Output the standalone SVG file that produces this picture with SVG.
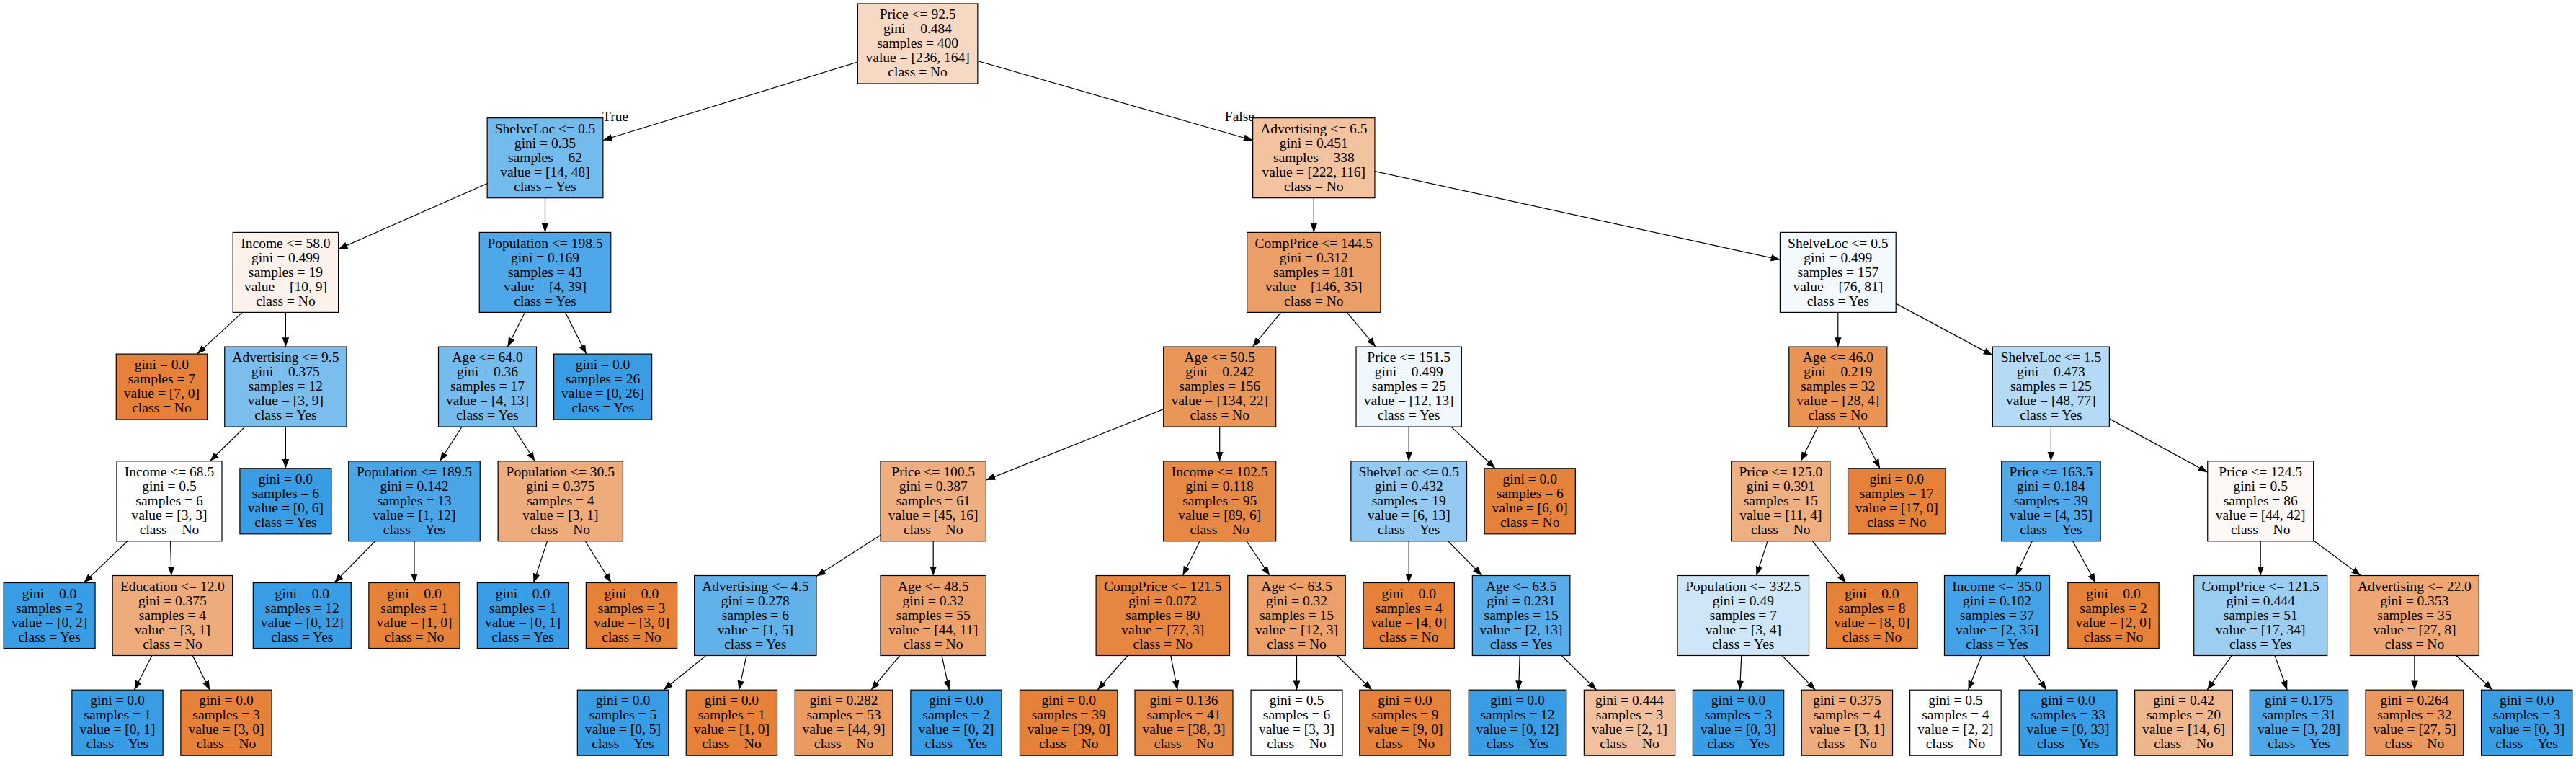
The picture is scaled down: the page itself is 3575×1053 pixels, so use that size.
<svg xmlns="http://www.w3.org/2000/svg" width="3575" height="1053" viewBox="0 0 3575 1053">
<style>
text { font-family: "Liberation Serif", "Times New Roman", serif; font-size: 19.5px; text-anchor: middle; fill: #000; }
.n rect { stroke: #000; stroke-width: 1.2; }
.e line { stroke: #000; stroke-width: 1.2; marker-end: url(#arr); }
.lbl { text-anchor: start; }
</style>
<defs>
<marker id="arr" markerUnits="userSpaceOnUse" viewBox="0 -5 13 10" markerWidth="13" markerHeight="10" refX="12.8" refY="0" orient="auto">
<path d="M0,-4.8 L12.8,0 L0,4.8 Z" fill="#000"/>
</marker>
</defs>
<rect x="0" y="0" width="3575" height="1053" fill="#fff"/>
<g id="connectors" class="e">
<line x1="1273.6" y1="60.5" x2="836.85" y2="194.54"/>
<line x1="1273.6" y1="60.5" x2="1738.65" y2="194.76"/>
<line x1="756.5" y1="219.2" x2="469.6" y2="345.64"/>
<line x1="756.5" y1="219.2" x2="756.5" y2="322.4"/>
<line x1="1823.3" y1="219.2" x2="1823.3" y2="322.4"/>
<line x1="1823.3" y1="219.2" x2="2470.4" y2="360.36"/>
<line x1="396.4" y1="377.9" x2="273.71" y2="491.1"/>
<line x1="396.4" y1="377.9" x2="396.4" y2="481.1"/>
<line x1="756.5" y1="377.9" x2="704.48" y2="481.1"/>
<line x1="756.5" y1="377.9" x2="813.64" y2="491.1"/>
<line x1="1823.3" y1="377.9" x2="1738.37" y2="481.1"/>
<line x1="1823.3" y1="377.9" x2="1909.07" y2="481.1"/>
<line x1="2550.8" y1="377.9" x2="2550.8" y2="481.1"/>
<line x1="2550.8" y1="377.9" x2="2765.4" y2="493.11"/>
<line x1="396.4" y1="536.6" x2="291.45" y2="639.8"/>
<line x1="396.4" y1="536.6" x2="396.4" y2="649.8"/>
<line x1="676.5" y1="536.6" x2="610.5" y2="639.8"/>
<line x1="676.5" y1="536.6" x2="742.37" y2="639.8"/>
<line x1="1692.7" y1="536.6" x2="1368.4" y2="666.08"/>
<line x1="1692.7" y1="536.6" x2="1692.7" y2="639.8"/>
<line x1="1955.2" y1="536.6" x2="1955.2" y2="639.8"/>
<line x1="1955.2" y1="536.6" x2="2075.03" y2="649.8"/>
<line x1="2550.8" y1="536.6" x2="2499.1" y2="639.8"/>
<line x1="2550.8" y1="536.6" x2="2608.93" y2="649.8"/>
<line x1="2846.4" y1="536.6" x2="2846.4" y2="639.8"/>
<line x1="2846.4" y1="536.6" x2="3063.75" y2="655.22"/>
<line x1="235" y1="695.3" x2="116.31" y2="808.5"/>
<line x1="235" y1="695.3" x2="237.86" y2="798.5"/>
<line x1="575" y1="695.3" x2="463.94" y2="808.5"/>
<line x1="575" y1="695.3" x2="575" y2="808.5"/>
<line x1="777.8" y1="695.3" x2="740.49" y2="808.5"/>
<line x1="777.8" y1="695.3" x2="848.2" y2="808.5"/>
<line x1="1295.2" y1="695.3" x2="1132.95" y2="799.59"/>
<line x1="1295.2" y1="695.3" x2="1295.2" y2="798.5"/>
<line x1="1692.7" y1="695.3" x2="1641.39" y2="798.5"/>
<line x1="1692.7" y1="695.3" x2="1762.15" y2="798.5"/>
<line x1="1955.2" y1="695.3" x2="1955.2" y2="808.5"/>
<line x1="1955.2" y1="695.3" x2="2056.58" y2="798.5"/>
<line x1="2471.3" y1="695.3" x2="2437.49" y2="798.5"/>
<line x1="2471.3" y1="695.3" x2="2561.6" y2="808.5"/>
<line x1="2846.4" y1="695.3" x2="2797.69" y2="798.5"/>
<line x1="2846.4" y1="695.3" x2="2908.17" y2="808.5"/>
<line x1="3137.2" y1="695.3" x2="3137.2" y2="798.5"/>
<line x1="3137.2" y1="695.3" x2="3276.17" y2="798.5"/>
<line x1="239.4" y1="854" x2="186.38" y2="957.2"/>
<line x1="239.4" y1="854" x2="291.17" y2="957.2"/>
<line x1="1048.3" y1="854" x2="920.74" y2="957.2"/>
<line x1="1048.3" y1="854" x2="1025.47" y2="957.2"/>
<line x1="1295.2" y1="854" x2="1209.0" y2="957.2"/>
<line x1="1295.2" y1="854" x2="1317.27" y2="957.2"/>
<line x1="1613.8" y1="854" x2="1523.16" y2="957.2"/>
<line x1="1613.8" y1="854" x2="1634.07" y2="957.2"/>
<line x1="1799.5" y1="854" x2="1799.5" y2="957.2"/>
<line x1="1799.5" y1="854" x2="1903.88" y2="957.2"/>
<line x1="2111.1" y1="854" x2="2107.56" y2="957.2"/>
<line x1="2111.1" y1="854" x2="2215.48" y2="957.2"/>
<line x1="2419.3" y1="854" x2="2414.58" y2="957.2"/>
<line x1="2419.3" y1="854" x2="2519.31" y2="957.2"/>
<line x1="2771.5" y1="854" x2="2731.52" y2="957.2"/>
<line x1="2771.5" y1="854" x2="2839.93" y2="957.2"/>
<line x1="3137.2" y1="854" x2="3063.15" y2="957.2"/>
<line x1="3137.2" y1="854" x2="3174.19" y2="957.2"/>
<line x1="3350.9" y1="854" x2="3350.9" y2="957.2"/>
<line x1="3350.9" y1="854" x2="3459.03" y2="957.2"/>
<text class="lbl" x="836" y="168">True</text>
<text x="1741" y="168" style="text-anchor:end">False</text>
</g>
<g id="nodes" class="n">
<g id="n0" transform="translate(1273.6,5)"><rect x="-83.25" y="0" width="166.5" height="111" fill="#f7d9c3"/><text y="21.3"><tspan x="0">Price &lt;= 92.5</tspan><tspan x="0" dy="20">gini = 0.484</tspan><tspan x="0" dy="20">samples = 400</tspan><tspan x="0" dy="20">value = [236, 164]</tspan><tspan x="0" dy="20">class = No</tspan></text></g>
<g id="n1" transform="translate(756.5,163.7)"><rect x="-80.35" y="0" width="160.7" height="111" fill="#73baed"/><text y="21.3"><tspan x="0">ShelveLoc &lt;= 0.5</tspan><tspan x="0" dy="20">gini = 0.35</tspan><tspan x="0" dy="20">samples = 62</tspan><tspan x="0" dy="20">value = [14, 48]</tspan><tspan x="0" dy="20">class = Yes</tspan></text></g>
<g id="n2" transform="translate(1823.3,163.7)"><rect x="-84.65" y="0" width="169.3" height="111" fill="#f3c3a0"/><text y="21.3"><tspan x="0">Advertising &lt;= 6.5</tspan><tspan x="0" dy="20">gini = 0.451</tspan><tspan x="0" dy="20">samples = 338</tspan><tspan x="0" dy="20">value = [222, 116]</tspan><tspan x="0" dy="20">class = No</tspan></text></g>
<g id="n3" transform="translate(396.4,322.4)"><rect x="-73.2" y="0" width="146.4" height="111" fill="#fcf2eb"/><text y="21.3"><tspan x="0">Income &lt;= 58.0</tspan><tspan x="0" dy="20">gini = 0.499</tspan><tspan x="0" dy="20">samples = 19</tspan><tspan x="0" dy="20">value = [10, 9]</tspan><tspan x="0" dy="20">class = No</tspan></text></g>
<g id="n4" transform="translate(756.5,322.4)"><rect x="-91.25" y="0" width="182.5" height="111" fill="#4da7e8"/><text y="21.3"><tspan x="0">Population &lt;= 198.5</tspan><tspan x="0" dy="20">gini = 0.169</tspan><tspan x="0" dy="20">samples = 43</tspan><tspan x="0" dy="20">value = [4, 39]</tspan><tspan x="0" dy="20">class = Yes</tspan></text></g>
<g id="n5" transform="translate(1823.3,322.4)"><rect x="-92.65" y="0" width="185.3" height="111" fill="#eb9f68"/><text y="21.3"><tspan x="0">CompPrice &lt;= 144.5</tspan><tspan x="0" dy="20">gini = 0.312</tspan><tspan x="0" dy="20">samples = 181</tspan><tspan x="0" dy="20">value = [146, 35]</tspan><tspan x="0" dy="20">class = No</tspan></text></g>
<g id="n6" transform="translate(2550.8,322.4)"><rect x="-80.4" y="0" width="160.8" height="111" fill="#f3f9fd"/><text y="21.3"><tspan x="0">ShelveLoc &lt;= 0.5</tspan><tspan x="0" dy="20">gini = 0.499</tspan><tspan x="0" dy="20">samples = 157</tspan><tspan x="0" dy="20">value = [76, 81]</tspan><tspan x="0" dy="20">class = Yes</tspan></text></g>
<g id="n7" transform="translate(224.4,491.1)"><rect x="-63.15" y="0" width="126.3" height="91" fill="#e58139"/><text y="21.3"><tspan x="0">gini = 0.0</tspan><tspan x="0" dy="20">samples = 7</tspan><tspan x="0" dy="20">value = [7, 0]</tspan><tspan x="0" dy="20">class = No</tspan></text></g>
<g id="n8" transform="translate(396.4,481.1)"><rect x="-84.65" y="0" width="169.3" height="111" fill="#7bbeee"/><text y="21.3"><tspan x="0">Advertising &lt;= 9.5</tspan><tspan x="0" dy="20">gini = 0.375</tspan><tspan x="0" dy="20">samples = 12</tspan><tspan x="0" dy="20">value = [3, 9]</tspan><tspan x="0" dy="20">class = Yes</tspan></text></g>
<g id="n9" transform="translate(676.5,481.1)"><rect x="-68" y="0" width="136" height="111" fill="#76bbed"/><text y="21.3"><tspan x="0">Age &lt;= 64.0</tspan><tspan x="0" dy="20">gini = 0.36</tspan><tspan x="0" dy="20">samples = 17</tspan><tspan x="0" dy="20">value = [4, 13]</tspan><tspan x="0" dy="20">class = Yes</tspan></text></g>
<g id="n10" transform="translate(836.6,491.1)"><rect x="-68" y="0" width="136" height="91" fill="#399de5"/><text y="21.3"><tspan x="0">gini = 0.0</tspan><tspan x="0" dy="20">samples = 26</tspan><tspan x="0" dy="20">value = [0, 26]</tspan><tspan x="0" dy="20">class = Yes</tspan></text></g>
<g id="n11" transform="translate(1692.7,481.1)"><rect x="-78" y="0" width="156" height="111" fill="#e9965a"/><text y="21.3"><tspan x="0">Age &lt;= 50.5</tspan><tspan x="0" dy="20">gini = 0.242</tspan><tspan x="0" dy="20">samples = 156</tspan><tspan x="0" dy="20">value = [134, 22]</tspan><tspan x="0" dy="20">class = No</tspan></text></g>
<g id="n12" transform="translate(1955.2,481.1)"><rect x="-73.15" y="0" width="146.3" height="111" fill="#f0f7fd"/><text y="21.3"><tspan x="0">Price &lt;= 151.5</tspan><tspan x="0" dy="20">gini = 0.499</tspan><tspan x="0" dy="20">samples = 25</tspan><tspan x="0" dy="20">value = [12, 13]</tspan><tspan x="0" dy="20">class = Yes</tspan></text></g>
<g id="n13" transform="translate(2550.8,481.1)"><rect x="-68" y="0" width="136" height="111" fill="#e99355"/><text y="21.3"><tspan x="0">Age &lt;= 46.0</tspan><tspan x="0" dy="20">gini = 0.219</tspan><tspan x="0" dy="20">samples = 32</tspan><tspan x="0" dy="20">value = [28, 4]</tspan><tspan x="0" dy="20">class = No</tspan></text></g>
<g id="n14" transform="translate(2846.4,481.1)"><rect x="-81" y="0" width="162" height="111" fill="#b4daf5"/><text y="21.3"><tspan x="0">ShelveLoc &lt;= 1.5</tspan><tspan x="0" dy="20">gini = 0.473</tspan><tspan x="0" dy="20">samples = 125</tspan><tspan x="0" dy="20">value = [48, 77]</tspan><tspan x="0" dy="20">class = Yes</tspan></text></g>
<g id="n15" transform="translate(235,639.8)"><rect x="-73" y="0" width="146" height="111" fill="#ffffff"/><text y="21.3"><tspan x="0">Income &lt;= 68.5</tspan><tspan x="0" dy="20">gini = 0.5</tspan><tspan x="0" dy="20">samples = 6</tspan><tspan x="0" dy="20">value = [3, 3]</tspan><tspan x="0" dy="20">class = No</tspan></text></g>
<g id="n16" transform="translate(396.4,649.8)"><rect x="-63.5" y="0" width="127" height="91" fill="#399de5"/><text y="21.3"><tspan x="0">gini = 0.0</tspan><tspan x="0" dy="20">samples = 6</tspan><tspan x="0" dy="20">value = [0, 6]</tspan><tspan x="0" dy="20">class = Yes</tspan></text></g>
<g id="n17" transform="translate(575,639.8)"><rect x="-91.25" y="0" width="182.5" height="111" fill="#4aa5e7"/><text y="21.3"><tspan x="0">Population &lt;= 189.5</tspan><tspan x="0" dy="20">gini = 0.142</tspan><tspan x="0" dy="20">samples = 13</tspan><tspan x="0" dy="20">value = [1, 12]</tspan><tspan x="0" dy="20">class = Yes</tspan></text></g>
<g id="n18" transform="translate(777.8,639.8)"><rect x="-86.65" y="0" width="173.3" height="111" fill="#eeab7b"/><text y="21.3"><tspan x="0">Population &lt;= 30.5</tspan><tspan x="0" dy="20">gini = 0.375</tspan><tspan x="0" dy="20">samples = 4</tspan><tspan x="0" dy="20">value = [3, 1]</tspan><tspan x="0" dy="20">class = No</tspan></text></g>
<g id="n19" transform="translate(1295.2,639.8)"><rect x="-73.2" y="0" width="146.4" height="111" fill="#eeae7f"/><text y="21.3"><tspan x="0">Price &lt;= 100.5</tspan><tspan x="0" dy="20">gini = 0.387</tspan><tspan x="0" dy="20">samples = 61</tspan><tspan x="0" dy="20">value = [45, 16]</tspan><tspan x="0" dy="20">class = No</tspan></text></g>
<g id="n20" transform="translate(1692.7,639.8)"><rect x="-78" y="0" width="156" height="111" fill="#e78946"/><text y="21.3"><tspan x="0">Income &lt;= 102.5</tspan><tspan x="0" dy="20">gini = 0.118</tspan><tspan x="0" dy="20">samples = 95</tspan><tspan x="0" dy="20">value = [89, 6]</tspan><tspan x="0" dy="20">class = No</tspan></text></g>
<g id="n21" transform="translate(1955.2,639.8)"><rect x="-80.35" y="0" width="160.7" height="111" fill="#94caf1"/><text y="21.3"><tspan x="0">ShelveLoc &lt;= 0.5</tspan><tspan x="0" dy="20">gini = 0.432</tspan><tspan x="0" dy="20">samples = 19</tspan><tspan x="0" dy="20">value = [6, 13]</tspan><tspan x="0" dy="20">class = Yes</tspan></text></g>
<g id="n22" transform="translate(2123.2,649.8)"><rect x="-63.15" y="0" width="126.3" height="91" fill="#e58139"/><text y="21.3"><tspan x="0">gini = 0.0</tspan><tspan x="0" dy="20">samples = 6</tspan><tspan x="0" dy="20">value = [6, 0]</tspan><tspan x="0" dy="20">class = No</tspan></text></g>
<g id="n23" transform="translate(2471.3,639.8)"><rect x="-68.6" y="0" width="137.2" height="111" fill="#eeaf81"/><text y="21.3"><tspan x="0">Price &lt;= 125.0</tspan><tspan x="0" dy="20">gini = 0.391</tspan><tspan x="0" dy="20">samples = 15</tspan><tspan x="0" dy="20">value = [11, 4]</tspan><tspan x="0" dy="20">class = No</tspan></text></g>
<g id="n24" transform="translate(2632.3,649.8)"><rect x="-67.75" y="0" width="135.5" height="91" fill="#e58139"/><text y="21.3"><tspan x="0">gini = 0.0</tspan><tspan x="0" dy="20">samples = 17</tspan><tspan x="0" dy="20">value = [17, 0]</tspan><tspan x="0" dy="20">class = No</tspan></text></g>
<g id="n25" transform="translate(2846.4,639.8)"><rect x="-68.7" y="0" width="137.4" height="111" fill="#50a8e8"/><text y="21.3"><tspan x="0">Price &lt;= 163.5</tspan><tspan x="0" dy="20">gini = 0.184</tspan><tspan x="0" dy="20">samples = 39</tspan><tspan x="0" dy="20">value = [4, 35]</tspan><tspan x="0" dy="20">class = Yes</tspan></text></g>
<g id="n26" transform="translate(3137.2,639.8)"><rect x="-73.45" y="0" width="146.9" height="111" fill="#fef9f6"/><text y="21.3"><tspan x="0">Price &lt;= 124.5</tspan><tspan x="0" dy="20">gini = 0.5</tspan><tspan x="0" dy="20">samples = 86</tspan><tspan x="0" dy="20">value = [44, 42]</tspan><tspan x="0" dy="20">class = No</tspan></text></g>
<g id="n27" transform="translate(68.6,808.5)"><rect x="-63.45" y="0" width="126.9" height="91" fill="#399de5"/><text y="21.3"><tspan x="0">gini = 0.0</tspan><tspan x="0" dy="20">samples = 2</tspan><tspan x="0" dy="20">value = [0, 2]</tspan><tspan x="0" dy="20">class = Yes</tspan></text></g>
<g id="n28" transform="translate(239.4,798.5)"><rect x="-83.25" y="0" width="166.5" height="111" fill="#eeab7b"/><text y="21.3"><tspan x="0">Education &lt;= 12.0</tspan><tspan x="0" dy="20">gini = 0.375</tspan><tspan x="0" dy="20">samples = 4</tspan><tspan x="0" dy="20">value = [3, 1]</tspan><tspan x="0" dy="20">class = No</tspan></text></g>
<g id="n29" transform="translate(419.3,808.5)"><rect x="-68" y="0" width="136" height="91" fill="#399de5"/><text y="21.3"><tspan x="0">gini = 0.0</tspan><tspan x="0" dy="20">samples = 12</tspan><tspan x="0" dy="20">value = [0, 12]</tspan><tspan x="0" dy="20">class = Yes</tspan></text></g>
<g id="n30" transform="translate(575,808.5)"><rect x="-63.15" y="0" width="126.3" height="91" fill="#e58139"/><text y="21.3"><tspan x="0">gini = 0.0</tspan><tspan x="0" dy="20">samples = 1</tspan><tspan x="0" dy="20">value = [1, 0]</tspan><tspan x="0" dy="20">class = No</tspan></text></g>
<g id="n31" transform="translate(725.5,808.5)"><rect x="-63.15" y="0" width="126.3" height="91" fill="#399de5"/><text y="21.3"><tspan x="0">gini = 0.0</tspan><tspan x="0" dy="20">samples = 1</tspan><tspan x="0" dy="20">value = [0, 1]</tspan><tspan x="0" dy="20">class = Yes</tspan></text></g>
<g id="n32" transform="translate(876.5,808.5)"><rect x="-63.15" y="0" width="126.3" height="91" fill="#e58139"/><text y="21.3"><tspan x="0">gini = 0.0</tspan><tspan x="0" dy="20">samples = 3</tspan><tspan x="0" dy="20">value = [3, 0]</tspan><tspan x="0" dy="20">class = No</tspan></text></g>
<g id="n33" transform="translate(1048.3,798.5)"><rect x="-84.65" y="0" width="169.3" height="111" fill="#61b1ea"/><text y="21.3"><tspan x="0">Advertising &lt;= 4.5</tspan><tspan x="0" dy="20">gini = 0.278</tspan><tspan x="0" dy="20">samples = 6</tspan><tspan x="0" dy="20">value = [1, 5]</tspan><tspan x="0" dy="20">class = Yes</tspan></text></g>
<g id="n34" transform="translate(1295.2,798.5)"><rect x="-73.2" y="0" width="146.4" height="111" fill="#eca06a"/><text y="21.3"><tspan x="0">Age &lt;= 48.5</tspan><tspan x="0" dy="20">gini = 0.32</tspan><tspan x="0" dy="20">samples = 55</tspan><tspan x="0" dy="20">value = [44, 11]</tspan><tspan x="0" dy="20">class = No</tspan></text></g>
<g id="n35" transform="translate(1613.8,798.5)"><rect x="-92.7" y="0" width="185.4" height="111" fill="#e68641"/><text y="21.3"><tspan x="0">CompPrice &lt;= 121.5</tspan><tspan x="0" dy="20">gini = 0.072</tspan><tspan x="0" dy="20">samples = 80</tspan><tspan x="0" dy="20">value = [77, 3]</tspan><tspan x="0" dy="20">class = No</tspan></text></g>
<g id="n36" transform="translate(1799.5,798.5)"><rect x="-67.75" y="0" width="135.5" height="111" fill="#eca06a"/><text y="21.3"><tspan x="0">Age &lt;= 63.5</tspan><tspan x="0" dy="20">gini = 0.32</tspan><tspan x="0" dy="20">samples = 15</tspan><tspan x="0" dy="20">value = [12, 3]</tspan><tspan x="0" dy="20">class = No</tspan></text></g>
<g id="n37" transform="translate(1955.2,808.5)"><rect x="-63.15" y="0" width="126.3" height="91" fill="#e58139"/><text y="21.3"><tspan x="0">gini = 0.0</tspan><tspan x="0" dy="20">samples = 4</tspan><tspan x="0" dy="20">value = [4, 0]</tspan><tspan x="0" dy="20">class = No</tspan></text></g>
<g id="n38" transform="translate(2111.1,798.5)"><rect x="-67.75" y="0" width="135.5" height="111" fill="#57ace9"/><text y="21.3"><tspan x="0">Age &lt;= 63.5</tspan><tspan x="0" dy="20">gini = 0.231</tspan><tspan x="0" dy="20">samples = 15</tspan><tspan x="0" dy="20">value = [2, 13]</tspan><tspan x="0" dy="20">class = Yes</tspan></text></g>
<g id="n39" transform="translate(2419.3,798.5)"><rect x="-91.25" y="0" width="182.5" height="111" fill="#cee6f8"/><text y="21.3"><tspan x="0">Population &lt;= 332.5</tspan><tspan x="0" dy="20">gini = 0.49</tspan><tspan x="0" dy="20">samples = 7</tspan><tspan x="0" dy="20">value = [3, 4]</tspan><tspan x="0" dy="20">class = Yes</tspan></text></g>
<g id="n40" transform="translate(2597.9,808.5)"><rect x="-63.15" y="0" width="126.3" height="91" fill="#e58139"/><text y="21.3"><tspan x="0">gini = 0.0</tspan><tspan x="0" dy="20">samples = 8</tspan><tspan x="0" dy="20">value = [8, 0]</tspan><tspan x="0" dy="20">class = No</tspan></text></g>
<g id="n41" transform="translate(2771.5,798.5)"><rect x="-73" y="0" width="146" height="111" fill="#44a3e6"/><text y="21.3"><tspan x="0">Income &lt;= 35.0</tspan><tspan x="0" dy="20">gini = 0.102</tspan><tspan x="0" dy="20">samples = 37</tspan><tspan x="0" dy="20">value = [2, 35]</tspan><tspan x="0" dy="20">class = Yes</tspan></text></g>
<g id="n42" transform="translate(2933,808.5)"><rect x="-63.15" y="0" width="126.3" height="91" fill="#e58139"/><text y="21.3"><tspan x="0">gini = 0.0</tspan><tspan x="0" dy="20">samples = 2</tspan><tspan x="0" dy="20">value = [2, 0]</tspan><tspan x="0" dy="20">class = No</tspan></text></g>
<g id="n43" transform="translate(3137.2,798.5)"><rect x="-92.5" y="0" width="185" height="111" fill="#9ccef2"/><text y="21.3"><tspan x="0">CompPrice &lt;= 121.5</tspan><tspan x="0" dy="20">gini = 0.444</tspan><tspan x="0" dy="20">samples = 51</tspan><tspan x="0" dy="20">value = [17, 34]</tspan><tspan x="0" dy="20">class = Yes</tspan></text></g>
<g id="n44" transform="translate(3350.9,798.5)"><rect x="-89.4" y="0" width="178.8" height="111" fill="#eda674"/><text y="21.3"><tspan x="0">Advertising &lt;= 22.0</tspan><tspan x="0" dy="20">gini = 0.353</tspan><tspan x="0" dy="20">samples = 35</tspan><tspan x="0" dy="20">value = [27, 8]</tspan><tspan x="0" dy="20">class = No</tspan></text></g>
<g id="n45" transform="translate(163,957.2)"><rect x="-63.15" y="0" width="126.3" height="91" fill="#399de5"/><text y="21.3"><tspan x="0">gini = 0.0</tspan><tspan x="0" dy="20">samples = 1</tspan><tspan x="0" dy="20">value = [0, 1]</tspan><tspan x="0" dy="20">class = Yes</tspan></text></g>
<g id="n46" transform="translate(314,957.2)"><rect x="-63.15" y="0" width="126.3" height="91" fill="#e58139"/><text y="21.3"><tspan x="0">gini = 0.0</tspan><tspan x="0" dy="20">samples = 3</tspan><tspan x="0" dy="20">value = [3, 0]</tspan><tspan x="0" dy="20">class = No</tspan></text></g>
<g id="n47" transform="translate(864.5,957.2)"><rect x="-63.15" y="0" width="126.3" height="91" fill="#399de5"/><text y="21.3"><tspan x="0">gini = 0.0</tspan><tspan x="0" dy="20">samples = 5</tspan><tspan x="0" dy="20">value = [0, 5]</tspan><tspan x="0" dy="20">class = Yes</tspan></text></g>
<g id="n48" transform="translate(1015.4,957.2)"><rect x="-63.15" y="0" width="126.3" height="91" fill="#e58139"/><text y="21.3"><tspan x="0">gini = 0.0</tspan><tspan x="0" dy="20">samples = 1</tspan><tspan x="0" dy="20">value = [1, 0]</tspan><tspan x="0" dy="20">class = No</tspan></text></g>
<g id="n49" transform="translate(1171,957.2)"><rect x="-67.75" y="0" width="135.5" height="91" fill="#ea9b62"/><text y="21.3"><tspan x="0">gini = 0.282</tspan><tspan x="0" dy="20">samples = 53</tspan><tspan x="0" dy="20">value = [44, 9]</tspan><tspan x="0" dy="20">class = No</tspan></text></g>
<g id="n50" transform="translate(1327,957.2)"><rect x="-63.15" y="0" width="126.3" height="91" fill="#399de5"/><text y="21.3"><tspan x="0">gini = 0.0</tspan><tspan x="0" dy="20">samples = 2</tspan><tspan x="0" dy="20">value = [0, 2]</tspan><tspan x="0" dy="20">class = Yes</tspan></text></g>
<g id="n51" transform="translate(1483.2,957.2)"><rect x="-67.75" y="0" width="135.5" height="91" fill="#e58139"/><text y="21.3"><tspan x="0">gini = 0.0</tspan><tspan x="0" dy="20">samples = 39</tspan><tspan x="0" dy="20">value = [39, 0]</tspan><tspan x="0" dy="20">class = No</tspan></text></g>
<g id="n52" transform="translate(1643,957.2)"><rect x="-68" y="0" width="136" height="91" fill="#e78b49"/><text y="21.3"><tspan x="0">gini = 0.136</tspan><tspan x="0" dy="20">samples = 41</tspan><tspan x="0" dy="20">value = [38, 3]</tspan><tspan x="0" dy="20">class = No</tspan></text></g>
<g id="n53" transform="translate(1799.5,957.2)"><rect x="-63.45" y="0" width="126.9" height="91" fill="#ffffff"/><text y="21.3"><tspan x="0">gini = 0.5</tspan><tspan x="0" dy="20">samples = 6</tspan><tspan x="0" dy="20">value = [3, 3]</tspan><tspan x="0" dy="20">class = No</tspan></text></g>
<g id="n54" transform="translate(1949.9,957.2)"><rect x="-63.15" y="0" width="126.3" height="91" fill="#e58139"/><text y="21.3"><tspan x="0">gini = 0.0</tspan><tspan x="0" dy="20">samples = 9</tspan><tspan x="0" dy="20">value = [9, 0]</tspan><tspan x="0" dy="20">class = No</tspan></text></g>
<g id="n55" transform="translate(2106,957.2)"><rect x="-67.75" y="0" width="135.5" height="91" fill="#399de5"/><text y="21.3"><tspan x="0">gini = 0.0</tspan><tspan x="0" dy="20">samples = 12</tspan><tspan x="0" dy="20">value = [0, 12]</tspan><tspan x="0" dy="20">class = Yes</tspan></text></g>
<g id="n56" transform="translate(2261.5,957.2)"><rect x="-63.15" y="0" width="126.3" height="91" fill="#f2c09c"/><text y="21.3"><tspan x="0">gini = 0.444</tspan><tspan x="0" dy="20">samples = 3</tspan><tspan x="0" dy="20">value = [2, 1]</tspan><tspan x="0" dy="20">class = No</tspan></text></g>
<g id="n57" transform="translate(2412.5,957.2)"><rect x="-63.15" y="0" width="126.3" height="91" fill="#399de5"/><text y="21.3"><tspan x="0">gini = 0.0</tspan><tspan x="0" dy="20">samples = 3</tspan><tspan x="0" dy="20">value = [0, 3]</tspan><tspan x="0" dy="20">class = Yes</tspan></text></g>
<g id="n58" transform="translate(2563.4,957.2)"><rect x="-63.15" y="0" width="126.3" height="91" fill="#eeab7b"/><text y="21.3"><tspan x="0">gini = 0.375</tspan><tspan x="0" dy="20">samples = 4</tspan><tspan x="0" dy="20">value = [3, 1]</tspan><tspan x="0" dy="20">class = No</tspan></text></g>
<g id="n59" transform="translate(2713.9,957.2)"><rect x="-63.25" y="0" width="126.5" height="91" fill="#ffffff"/><text y="21.3"><tspan x="0">gini = 0.5</tspan><tspan x="0" dy="20">samples = 4</tspan><tspan x="0" dy="20">value = [2, 2]</tspan><tspan x="0" dy="20">class = No</tspan></text></g>
<g id="n60" transform="translate(2870.1,957.2)"><rect x="-67.9" y="0" width="135.8" height="91" fill="#399de5"/><text y="21.3"><tspan x="0">gini = 0.0</tspan><tspan x="0" dy="20">samples = 33</tspan><tspan x="0" dy="20">value = [0, 33]</tspan><tspan x="0" dy="20">class = Yes</tspan></text></g>
<g id="n61" transform="translate(3030.5,957.2)"><rect x="-67.85" y="0" width="135.7" height="91" fill="#f0b78e"/><text y="21.3"><tspan x="0">gini = 0.42</tspan><tspan x="0" dy="20">samples = 20</tspan><tspan x="0" dy="20">value = [14, 6]</tspan><tspan x="0" dy="20">class = No</tspan></text></g>
<g id="n62" transform="translate(3190.5,957.2)"><rect x="-68.2" y="0" width="136.4" height="91" fill="#4ea8e8"/><text y="21.3"><tspan x="0">gini = 0.175</tspan><tspan x="0" dy="20">samples = 31</tspan><tspan x="0" dy="20">value = [3, 28]</tspan><tspan x="0" dy="20">class = Yes</tspan></text></g>
<g id="n63" transform="translate(3350.9,957.2)"><rect x="-67.85" y="0" width="135.7" height="91" fill="#ea985e"/><text y="21.3"><tspan x="0">gini = 0.264</tspan><tspan x="0" dy="20">samples = 32</tspan><tspan x="0" dy="20">value = [27, 5]</tspan><tspan x="0" dy="20">class = No</tspan></text></g>
<g id="n64" transform="translate(3506.7,957.2)"><rect x="-63.15" y="0" width="126.3" height="91" fill="#399de5"/><text y="21.3"><tspan x="0">gini = 0.0</tspan><tspan x="0" dy="20">samples = 3</tspan><tspan x="0" dy="20">value = [0, 3]</tspan><tspan x="0" dy="20">class = Yes</tspan></text></g>
</g>
</svg>
